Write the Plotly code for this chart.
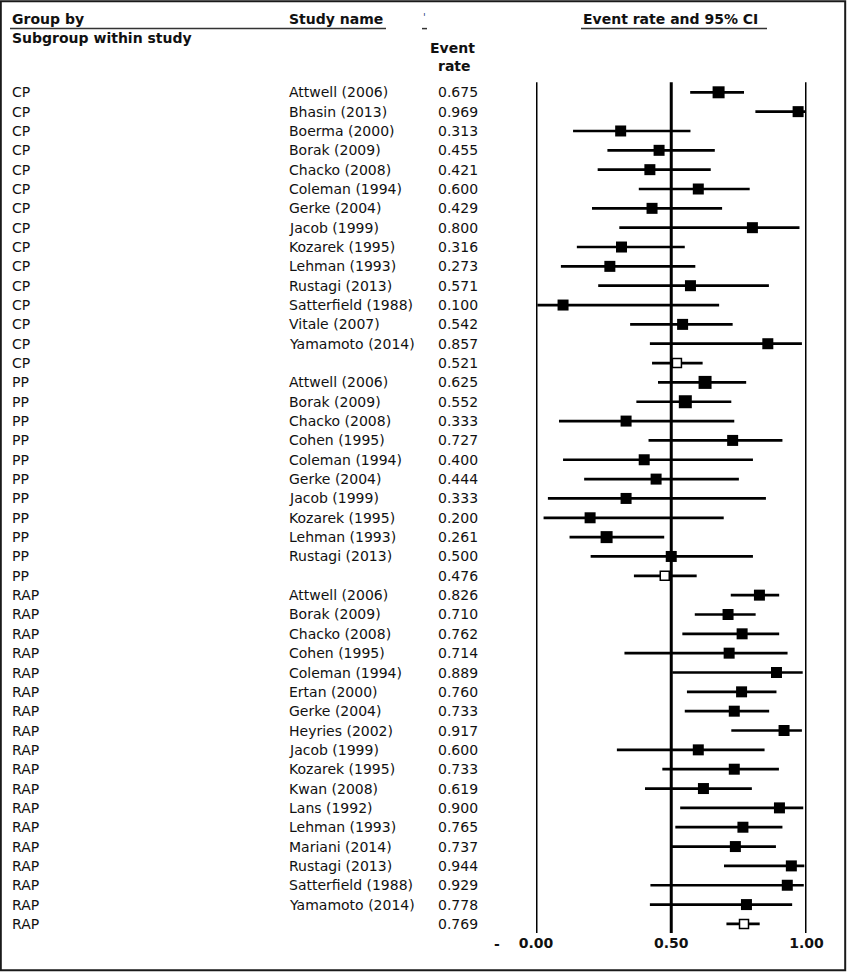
import plotly.graph_objects as go

# ---------------- data ----------------
cp_studies = ["Attwell (2006)", "Bhasin (2013)", "Boerma (2000)", "Borak (2009)", "Chacko (2008)",
              "Coleman (1994)", "Gerke (2004)", "Jacob (1999)", "Kozarek (1995)", "Lehman (1993)",
              "Rustagi (2013)", "Satterfield (1988)", "Vitale (2007)", "Yamamoto (2014)", ""]
cp_rate = [0.675, 0.969, 0.313, 0.455, 0.421, 0.600, 0.429, 0.800, 0.316, 0.273, 0.571, 0.100, 0.542, 0.857, 0.521]
cp_lower = [0.570, 0.811, 0.137, 0.264, 0.228, 0.380, 0.207, 0.308, 0.151, 0.092, 0.230, 0.005, 0.348, 0.421, 0.429]
cp_upper = [0.769, 0.996, 0.571, 0.661, 0.646, 0.790, 0.688, 0.974, 0.550, 0.589, 0.861, 0.677, 0.727, 0.983, 0.616]

pp_studies = ["Attwell (2006)", "Borak (2009)", "Chacko (2008)", "Cohen (1995)", "Coleman (1994)",
              "Gerke (2004)", "Jacob (1999)", "Kozarek (1995)", "Lehman (1993)", "Rustagi (2013)", ""]
pp_rate = [0.625, 0.552, 0.333, 0.727, 0.400, 0.444, 0.333, 0.200, 0.261, 0.500, 0.476]
pp_lower = [0.451, 0.371, 0.085, 0.416, 0.100, 0.178, 0.044, 0.028, 0.124, 0.202, 0.362]
pp_upper = [0.777, 0.722, 0.733, 0.911, 0.802, 0.750, 0.850, 0.694, 0.474, 0.802, 0.594]

rap_studies = ["Attwell (2006)", "Borak (2009)", "Chacko (2008)", "Cohen (1995)", "Coleman (1994)",
               "Ertan (2000)", "Gerke (2004)", "Heyries (2002)", "Jacob (1999)", "Kozarek (1995)",
               "Kwan (2008)", "Lans (1992)", "Lehman (1993)", "Mariani (2014)", "Rustagi (2013)",
               "Satterfield (1988)", "Yamamoto (2014)", ""]
rap_rate = [0.826, 0.710, 0.762, 0.714, 0.889, 0.760, 0.733, 0.917, 0.600, 0.733,
            0.619, 0.900, 0.765, 0.737, 0.944, 0.929, 0.778, 0.769]
rap_lower = [0.720, 0.587, 0.541, 0.327, 0.504, 0.558, 0.550, 0.722, 0.299, 0.467,
             0.403, 0.533, 0.515, 0.502, 0.695, 0.423, 0.421, 0.704]
rap_upper = [0.899, 0.812, 0.899, 0.930, 0.986, 0.889, 0.862, 0.983, 0.845, 0.898,
             0.798, 0.988, 0.911, 0.887, 0.992, 0.990, 0.947, 0.827]

group_names = ["CP", "PP", "RAP"]
tick_values = [0.0, 0.5, 1.0]
tick_labels = ["0.00", "0.50", "1.00"]

# ---------------- styles ----------------
W, H = 847, 972
FONT = "DejaVu Sans"
FS = 14
INK = "#111111"
ROW0, ROWH = 92.3, 19.34          # pixel centre of first row, row pitch
X0PX, X1PX = 536.0, 806.5         # pixel position of 0 and 1 on the rate axis
AXIS_BOTTOM_PX = 933.0

# per-row square sizes (study weights as drawn)
box_px = ([12, 11, 11, 11, 11, 11, 11, 11, 11, 11, 11, 11, 11, 11, 9] +
          [13, 13, 11, 11, 11, 11, 11, 11, 12, 11, 9] +
          [11] * 17 + [9])

# ---------------- assemble rows ----------------
groups, studies, rate, lower, upper = [], [], [], [], []
for g, s, r, lo, hi in [("CP", cp_studies, cp_rate, cp_lower, cp_upper),
                        ("PP", pp_studies, pp_rate, pp_lower, pp_upper),
                        ("RAP", rap_studies, rap_rate, rap_lower, rap_upper)]:
    groups += [g] * len(s)
    studies += s
    rate += r
    lower += lo
    upper += hi

n = len(rate)
rows = list(range(n))
is_sum = [s == "" for s in studies]


def px_x(p):
    return p / W


def px_y(p):
    return 1 - p / H


y_top_val = (0 - ROW0) / ROWH
y_bot_val = (AXIS_BOTTOM_PX - ROW0) / ROWH
y_dom0 = 1 - AXIS_BOTTOM_PX / H

fig = go.Figure()

for summary in (False, True):
    idx = [i for i in rows if is_sum[i] == summary]
    fig.add_trace(go.Scatter(
        x=[rate[i] for i in idx],
        y=[i for i in idx],
        mode="markers",
        cliponaxis=False,
        marker=dict(symbol="square",
                    size=[box_px[i] for i in idx],
                    color="white" if summary else "black",
                    opacity=1,
                    line=dict(color="black", width=1.5 if summary else 0)),
        error_x=dict(type="data", symmetric=False,
                     array=[upper[i] - rate[i] for i in idx],
                     arrayminus=[rate[i] - lower[i] for i in idx],
                     color="black", thickness=2.7, width=0),
        showlegend=False,
        hoverinfo="skip",
    ))

shapes = []
# vertical reference lines
for v in tick_values:
    shapes.append(dict(type="line", xref="x", yref="y", x0=v, x1=v,
                       y0=-0.52, y1=y_bot_val, line=dict(color="black", width=3), layer="below"))

# header underlines
for a, b in [(10, 287), (287, 386), (422, 427), (581, 767)]:
    shapes.append(dict(type="line", xref="paper", yref="paper",
                       x0=px_x(a), x1=px_x(b), y0=px_y(28.6), y1=px_y(28.6),
                       line=dict(color="#333333", width=1.5)))

# outer frame
shapes.append(dict(type="rect", xref="paper", yref="paper",
                   x0=px_x(0.8), x1=px_x(845.2), y0=px_y(970.3), y1=px_y(1.2),
                   line=dict(color="#1a1a1a", width=2)))

ann = []


def txt(text, xp, yp, anchor="left", bold=False, color=INK, size=FS, yref_row=None):
    d = dict(text=text, x=px_x(xp), xref="paper", xanchor=anchor, yanchor="middle",
             showarrow=False, font=dict(family=FONT, size=size, color=color,
                                         weight="bold" if bold else "normal"))
    if yref_row is None:
        d.update(y=px_y(yp), yref="paper")
    else:
        d.update(y=yref_row, yref="y")
    ann.append(d)


# headers
txt("Group by", 10, 19, bold=True)
txt("Subgroup within study", 10, 38, bold=True)
txt("Study name", 287, 19, bold=True)
txt("'", 421, 18, color="#2a3f7a", size=10)
txt("Event rate and 95% CI", 581, 19, bold=True)
txt("Event", 452, 48, anchor="center", bold=True)
txt("rate", 454, 65.5, anchor="center", bold=True)

# row texts
for i in rows:
    txt(groups[i], 10, 0, yref_row=i)
    if studies[i]:
        txt(studies[i], 287, 0, yref_row=i)
    txt(f"{rate[i]:.3f}", 480, 0, anchor="right", yref_row=i)

# stray minus sign left of the axis labels
txt("-", 497, 944, anchor="center", bold=True)

fig.update_layout(
    width=W, height=H, autosize=False,
    margin=dict(l=0, r=0, t=0, b=0, pad=0, autoexpand=False),
    paper_bgcolor="white", plot_bgcolor="white",
    shapes=shapes, annotations=ann,
    xaxis=dict(domain=[px_x(X0PX), px_x(X1PX)], range=[0, 1],
               showgrid=False, zeroline=False, showline=False, automargin=False,
               tickvals=tick_values, ticktext=tick_labels,
               ticks="", ticklen=0,
               tickfont=dict(family=FONT, size=FS, color=INK, weight="bold")),
    yaxis=dict(domain=[y_dom0, 1], range=[y_bot_val, y_top_val], automargin=False,
               visible=False, showgrid=False, zeroline=False),
)

fig.write_html(
    "out.html",
    config={"displayModeBar": False, "responsive": False},
    post_script=("document.documentElement.style.margin='0';"
                 "document.documentElement.style.overflow='hidden';"
                 "document.body.style.margin='0';"
                 "document.body.style.padding='0';"
                 "document.body.style.overflow='hidden';"),
)
